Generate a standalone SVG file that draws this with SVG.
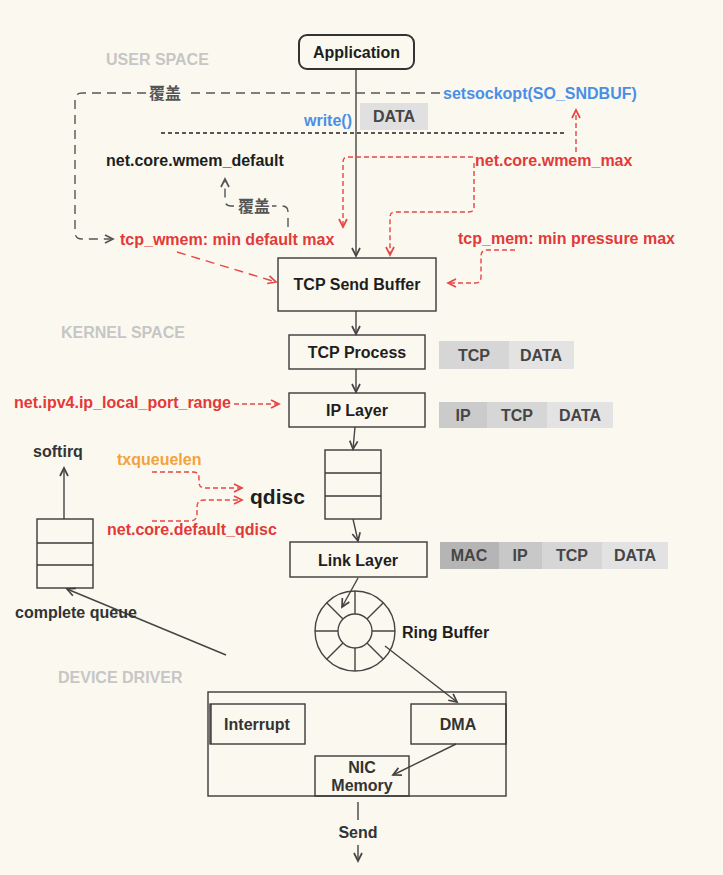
<svg xmlns="http://www.w3.org/2000/svg" width="723" height="875" viewBox="0 0 723 875">
<defs>
<style>
text{font-family:"Liberation Sans",Arial,"Noto Sans CJK SC",sans-serif;font-weight:bold;font-size:16px}
.t{fill:#1e1e1e}
.c{text-anchor:middle}
.red{fill:#e23a3a}
.blue{fill:#4a8fe6}
.orange{fill:#f4a23a}
.sec{fill:#c6c6c6}
.hd{fill:#454545;text-anchor:middle}
.cjk{font-family:"Noto Sans CJK SC","Liberation Sans",sans-serif;fill:#555}
.box{fill:none;stroke:#3a3a3a;stroke-width:1.4}
.ln{fill:none;stroke:#444;stroke-width:1.4}
.rd{fill:none;stroke:#e84545;stroke-width:1.4;stroke-dasharray:5 3}
.rdl{fill:none;stroke:#e84545;stroke-width:1.4;stroke-dasharray:9 6}
.gd{fill:none;stroke:#555;stroke-width:1.4;stroke-dasharray:9 6}
</style>
<marker id="ad" markerUnits="userSpaceOnUse" markerWidth="12" markerHeight="12" refX="9" refY="5" orient="auto"><path d="M1,1 L9,5 L1,9" fill="none" stroke="#444" stroke-width="1.7"/></marker>
<marker id="ar" markerUnits="userSpaceOnUse" markerWidth="12" markerHeight="12" refX="9" refY="5" orient="auto"><path d="M1,1 L9,5 L1,9" fill="none" stroke="#e84545" stroke-width="1.7"/></marker>
<marker id="ag" markerUnits="userSpaceOnUse" markerWidth="12" markerHeight="12" refX="9" refY="5" orient="auto"><path d="M1,1 L9,5 L1,9" fill="none" stroke="#555" stroke-width="1.7"/></marker>
</defs>
<rect x="0" y="0" width="723" height="875" fill="#fbf9ef"/>

<g id="sections">
<text class="sec" x="106" y="65">USER SPACE</text>
<text class="sec" x="61" y="338">KERNEL SPACE</text>
<text class="sec" x="58" y="683">DEVICE DRIVER</text>
</g>

<g id="connectors">
<line class="ln" x1="356" y1="69" x2="356" y2="256" marker-end="url(#ad)"/>
<line class="ln" x1="356" y1="311" x2="356" y2="334" marker-end="url(#ad)"/>
<line class="ln" x1="356" y1="369" x2="356" y2="392" marker-end="url(#ad)"/>
<line class="ln" x1="355" y1="427" x2="353" y2="449" marker-end="url(#ad)"/>
<line class="ln" x1="353" y1="519" x2="358" y2="541" marker-end="url(#ad)"/>
<line class="ln" x1="358" y1="578" x2="342" y2="607" marker-end="url(#ad)"/>
<line class="ln" x1="385" y1="646" x2="457" y2="702" marker-end="url(#ad)"/>
<line class="ln" x1="456" y1="744" x2="393" y2="775" marker-end="url(#ad)"/>
<line class="ln" x1="358" y1="802" x2="358" y2="820"/>
<line class="ln" x1="358" y1="845" x2="358" y2="861" marker-end="url(#ad)"/>
<line class="ln" x1="64" y1="519" x2="64" y2="468" marker-end="url(#ad)"/>
<line class="ln" x1="226" y1="655" x2="67" y2="589" marker-end="url(#ad)"/>
<!-- setsockopt override -->
<path class="gd" d="M440 93 H186"/>
<path class="gd" d="M146 93 H82 Q75 93 75 100 V232 Q75 239 82 239 H113" marker-end="url(#ag)"/>
<!-- tcp_wmem override default -->
<path class="gd" d="M288 227 V212 Q288 206 282 206 H272"/>
<path class="gd" d="M234 206 H231 Q225 206 225 200 V179" marker-end="url(#ag)"/>
<!-- black divider -->
<line x1="161" y1="133" x2="564" y2="133" stroke="#222" stroke-width="1.3" stroke-dasharray="4 3"/>
<!-- wmem_max -->
<path class="rd" d="M576 152 V110" marker-end="url(#ar)"/>
<path class="rd" d="M473 157 H348 Q343 157 343 162 V227" marker-end="url(#ar)"/>
<path class="rd" d="M474 163 V207 Q474 212 469 212 H395 Q390 212 390 217 V255" marker-end="url(#ar)"/>
<!-- tcp_wmem -->
<path class="rdl" d="M177 252 L276 282" marker-end="url(#ar)"/>
<!-- tcp_mem -->
<path class="rd" d="M515 250 H487 Q481 250 481 256 V277 Q481 283 475 283 H448" marker-end="url(#ar)"/>
<!-- port range -->
<path class="rd" d="M234 404 H279" marker-end="url(#ar)"/>
<!-- qdisc params -->
<path class="rd" d="M152 472 H193 Q199 472 199 478 V482 Q199 488 205 488 H242" marker-end="url(#ar)"/>
<path class="rd" d="M152 521 H190 Q197 521 197 514 V507 Q197 500 204 500 H242" marker-end="url(#ar)"/>
</g>

<g id="labels">
<text class="cjk" x="149" y="99">覆盖</text>
<text class="cjk" x="238" y="212">覆盖</text>
<text class="blue" x="443" y="99">setsockopt(SO_SNDBUF)</text>
<text class="blue" x="304" y="126">write()</text>
<text class="t" x="106" y="166">net.core.wmem_default</text>
<text class="red" x="475" y="166">net.core.wmem_max</text>
<text class="red" x="120" y="245">tcp_wmem: min default max</text>
<text class="red" x="458" y="244">tcp_mem: min pressure max</text>
<text class="red" x="14" y="408">net.ipv4.ip_local_port_range</text>
<text class="orange" x="117" y="465">txqueuelen</text>
<text class="red" x="107" y="535">net.core.default_qdisc</text>
<text class="t" x="250" y="504" style="font-size:21px">qdisc</text>
<text class="t" x="402" y="638">Ring Buffer</text>
<text class="t c" x="58" y="457" style="fill:#333">softirq</text>
<text class="t" x="15" y="618" style="fill:#333">complete queue</text>
<text class="t c" x="358" y="838" style="fill:#333">Send</text>
</g>

<g id="application">
<rect x="299" y="35" width="115" height="34" rx="8" fill="#fbf9ef" stroke="#333" stroke-width="2"/>
<text class="t c" x="356.5" y="58">Application</text>
</g>

<g id="data-user">
<rect x="360" y="103" width="68" height="27" fill="#e0e0e0"/>
<text class="hd" x="394" y="122">DATA</text>
</g>

<g id="tcp-send-buffer">
<rect class="box" x="278" y="258" width="158" height="53" fill="#fbf9ef"/>
<text class="t c" x="357" y="290">TCP Send Buffer</text>
</g>

<g id="tcp-process">
<rect class="box" x="289" y="335" width="136" height="34"/>
<text class="t c" x="357" y="358">TCP Process</text>
</g>
<g id="tcp-header">
<rect x="439" y="341" width="70" height="28" fill="#d6d6d6"/>
<rect x="509" y="341" width="65" height="28" fill="#e3e3e3"/>
<text class="hd" x="474" y="361">TCP</text>
<text class="hd" x="541" y="361">DATA</text>
</g>

<g id="ip-layer">
<rect class="box" x="289" y="393" width="136" height="34"/>
<text class="t c" x="357" y="416">IP Layer</text>
</g>
<g id="ip-header">
<rect x="439" y="402" width="48" height="26" fill="#cbcbcb"/>
<rect x="487" y="402" width="60" height="26" fill="#d6d6d6"/>
<rect x="547" y="402" width="66" height="26" fill="#e3e3e3"/>
<text class="hd" x="463" y="421">IP</text>
<text class="hd" x="517" y="421">TCP</text>
<text class="hd" x="580" y="421">DATA</text>
</g>

<g id="qdisc-queue">
<rect class="box" x="325" y="450" width="56" height="69"/>
<line class="box" x1="325" y1="473" x2="381" y2="473"/>
<line class="box" x1="325" y1="496" x2="381" y2="496"/>
</g>

<g id="link-layer">
<rect class="box" x="290" y="542" width="137" height="35"/>
<text class="t c" x="358" y="566">Link Layer</text>
</g>
<g id="link-header">
<rect x="440" y="542" width="59" height="27" fill="#b5b5b5"/>
<rect x="499" y="542" width="43" height="27" fill="#c8c8c8"/>
<rect x="542" y="542" width="60" height="27" fill="#d6d6d6"/>
<rect x="602" y="542" width="66" height="27" fill="#e2e2e2"/>
<text class="hd" x="469" y="561">MAC</text>
<text class="hd" x="520" y="561">IP</text>
<text class="hd" x="572" y="561">TCP</text>
<text class="hd" x="635" y="561">DATA</text>
</g>

<g id="ring-buffer">
<circle class="ln" cx="355" cy="631" r="40"/>
<circle class="ln" cx="355" cy="631" r="17"/>
<path class="ln" d="M355 591 V614 M355 648 V671 M315 631 H338 M372 631 H395 M326.7 602.7 L343 619 M367 643 L383.3 659.3 M383.3 602.7 L367 619 M343 643 L326.7 659.3"/>
</g>

<g id="complete-queue">
<rect class="box" x="37" y="519" width="56" height="69"/>
<line class="box" x1="37" y1="543" x2="93" y2="543"/>
<line class="box" x1="37" y1="565" x2="93" y2="565"/>
</g>

<g id="device">
<rect class="box" x="208" y="692" width="298" height="104"/>
</g>
<g id="interrupt">
<rect class="box" x="210" y="704" width="95" height="40"/>
<line x1="211" y1="704" x2="211" y2="744" stroke="#3a3a3a" stroke-width="1.4"/>
<text class="t c" x="257" y="730" style="fill:#333">Interrupt</text>
</g>
<g id="dma">
<rect class="box" x="411" y="704" width="95" height="40"/>
<text class="t c" x="458" y="730" style="fill:#333">DMA</text>
</g>
<g id="nic-memory">
<rect class="box" x="315" y="756" width="94" height="40"/>
<text class="t c" x="362" y="773" style="fill:#333">NIC</text>
<text class="t c" x="362" y="791" style="fill:#333">Memory</text>
</g>
</svg>
